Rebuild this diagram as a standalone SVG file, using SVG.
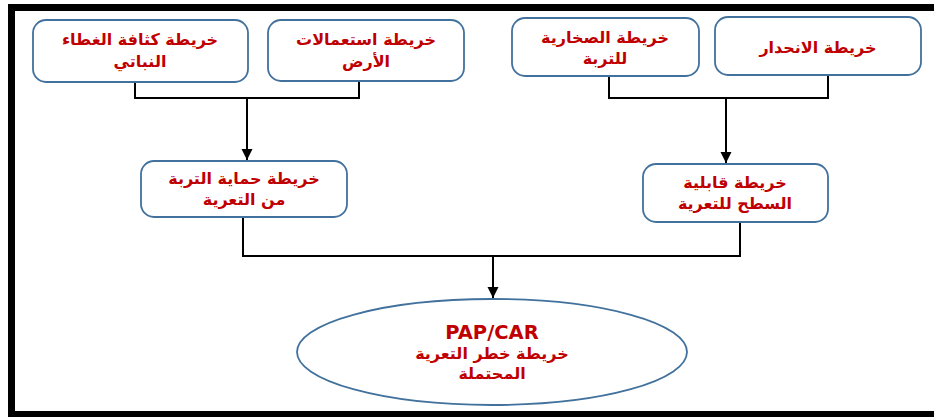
<svg xmlns="http://www.w3.org/2000/svg" width="934" height="417" viewBox="0 0 934 417">
<defs>
<style>
.box{fill:#ffffff;stroke:#41719c;stroke-width:1.8}
.t{font-family:"DejaVu Sans","Liberation Sans",sans-serif;font-weight:bold;font-size:16px;fill:#c00000;text-anchor:middle}
.lat{font-family:"DejaVu Sans","Liberation Sans",sans-serif;font-weight:bold;font-size:19.5px;fill:#c00000;text-anchor:middle}
.c{fill:none;stroke:#000000;stroke-width:2}
</style>
<marker id="arr" viewBox="0 0 10 10" refX="10" refY="5" markerWidth="5.5" markerHeight="6.5" orient="auto" markerUnits="strokeWidth">
<path d="M0,0 L10,5 L0,10 z" fill="#000000"/>
</marker>
</defs>
<rect x="0" y="0" width="934" height="417" fill="#ffffff"/>
<g id="frame" fill="#000000">
<rect x="8" y="4" width="926" height="7"/>
<rect x="8" y="4" width="7" height="413"/>
<rect x="8" y="411" width="926" height="6"/>
</g>
<g id="connectors">
<path class="c" d="M135,82 V98 H359 V81"/>
<path class="c" d="M247,98 V160" marker-end="url(#arr)"/>
<path class="c" d="M609,76 V98 H828 V75"/>
<path class="c" d="M726,98 V163" marker-end="url(#arr)"/>
<path class="c" d="M243,217 V256 H740 V222"/>
<path class="c" d="M493,256 V298" marker-end="url(#arr)"/>
</g>
<g id="n-vegetation">
<rect class="box" x="33" y="20" width="215" height="62" rx="13"/>
<text class="t" x="140" y="45">خريطة كثافة الغطاء</text>
<text class="t" x="140" y="67">النباتي</text>
</g>
<g id="n-landuse">
<rect class="box" x="268" y="20" width="196" height="61" rx="13"/>
<text class="t" x="366" y="45">خريطة استعمالات</text>
<text class="t" x="366" y="67">الأرض</text>
</g>
<g id="n-rockiness">
<rect class="box" x="512" y="18" width="187" height="58" rx="13"/>
<text class="t" x="605" y="43">خريطة الصخارية</text>
<text class="t" x="605" y="64">للتربة</text>
</g>
<g id="n-slope">
<rect class="box" x="715" y="17" width="206" height="58" rx="13"/>
<text class="t" x="818" y="53">خريطة الانحدار</text>
</g>
<g id="n-protection">
<rect class="box" x="141" y="161" width="206" height="56" rx="13"/>
<text class="t" x="244" y="184">خريطة حماية التربة</text>
<text class="t" x="244" y="205">من التعرية</text>
</g>
<g id="n-susceptibility">
<rect class="box" x="643" y="164" width="185" height="58" rx="13"/>
<text class="t" x="735" y="188">خريطة قابلية</text>
<text class="t" x="735" y="209">السطح للتعرية</text>
</g>
<g id="n-risk">
<ellipse class="box" cx="492" cy="352" rx="195" ry="53"/>
<text class="lat" x="492" y="339">PAP/CAR</text>
<text class="t" x="492" y="359">خريطة خطر التعرية</text>
<text class="t" x="492" y="379">المحتملة</text>
</g>
</svg>
